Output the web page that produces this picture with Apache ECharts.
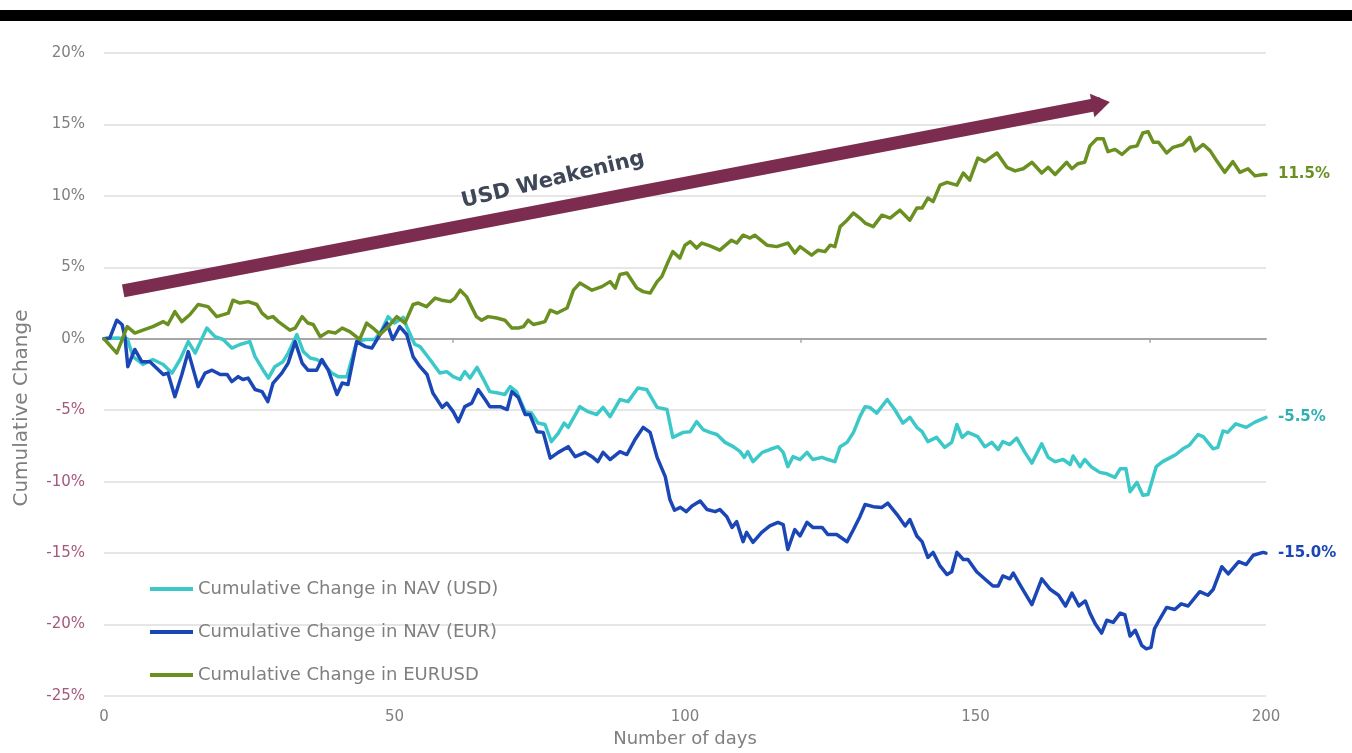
<!DOCTYPE html>
<html>
<head>
<meta charset="utf-8">
<script src="https://cdn.jsdelivr.net/npm/echarts@6/dist/echarts.min.js"></script>
<style>
html,body{margin:0;padding:0;background:#ffffff;}
#chart{width:1352px;height:753px;}
</style>
</head>
<body>
<div id="chart"></div>
<script>
// ---------------- data ----------------
const seriesNames = ['Cumulative Change in NAV (USD)', 'Cumulative Change in NAV (EUR)', 'Cumulative Change in EURUSD'];
const xTickLabels = [0, 50, 100, 150, 200];
const yTickLabels = [-25, -20, -15, -10, -5, 0, 5, 10, 15, 20];
const zeroLineTicks = [60, 120, 180];

// [day, cumulative change %]
const navUsd = [
[0,0],[2.2,0.05],[4,0],[5,-1.25],[6.7,-1.8],[8.4,-1.45],[10.2,-1.8],[11.7,-2.4],[13.1,-1.45],[14.5,-0.2],
[15.7,-1.0],[17.7,0.75],[19.1,0.15],[20.5,-0.05],[22,-0.65],[23.4,-0.4],[25.1,-0.2],[26,-1.25],[27.4,-2.2],[28.3,-2.75],
[29.4,-1.95],[30.8,-1.6],[31.7,-1.0],[33.2,0.3],[34.3,-0.9],[35.5,-1.35],[36.6,-1.45],[37.7,-1.7],[39.2,-2.4],[40.3,-2.65],
[41.8,-2.65],[43.5,-0.2],[45,-0.05],[46.6,-0.05],[47.8,0.6],[48.9,1.55],[50,1.1],[51.5,1.5],[52.1,0.85],[53.5,-0.4],
[54.4,-0.55],[56.1,-1.45],[57.8,-2.4],[59,-2.3],[60.1,-2.65],[61.3,-2.85],[62.1,-2.3],[63,-2.75],[64.2,-2.0],[65.2,-2.75],
[66.4,-3.7],[67.8,-3.8],[69,-3.9],[69.9,-3.35],[71,-3.7],[72.5,-5.1],[73.6,-5.2],[74.7,-5.9],[75.9,-6.0],[77,-7.2],
[78.2,-6.6],[79.2,-5.9],[79.9,-6.2],[81.9,-4.75],[83.3,-5.1],[84.8,-5.3],[85.9,-4.8],[87.1,-5.45],[88.8,-4.25],[90.2,-4.4],
[91.9,-3.45],[93.4,-3.55],[95.2,-4.8],[96.9,-4.95],[97.9,-6.9],[99.7,-6.55],[100.9,-6.5],[102,-5.8],[103.1,-6.35],[104.3,-6.55],
[105.5,-6.7],[106.9,-7.25],[108.3,-7.55],[109.5,-7.9],[110.2,-8.3],[110.8,-7.9],[111.7,-8.6],[113.3,-7.95],[114.6,-7.75],[116,-7.55],
[116.9,-7.95],[117.7,-8.95],[118.6,-8.25],[119.8,-8.45],[121,-7.95],[122,-8.45],[123.6,-8.3],[124.6,-8.45],[125.8,-8.6],[126.7,-7.55],
[127.9,-7.25],[129,-6.55],[130.1,-5.45],[131,-4.75],[131.8,-4.8],[133,-5.2],[134.8,-4.25],[136.1,-4.95],[137.5,-5.9],[138.7,-5.5],
[139.9,-6.2],[140.8,-6.5],[141.8,-7.2],[143.3,-6.9],[144.7,-7.6],[145.9,-7.25],[146.8,-6.0],[147.7,-6.9],[148.7,-6.55],[150.4,-6.85],
[151.6,-7.55],[152.8,-7.25],[153.9,-7.75],[154.7,-7.2],[155.9,-7.4],[157.1,-6.95],[158.5,-7.95],[159.7,-8.7],[161.4,-7.35],[162.5,-8.3],
[163.7,-8.6],[165.1,-8.45],[166.3,-8.8],[166.8,-8.2],[168,-8.95],[168.8,-8.45],[169.9,-8.95],[171.4,-9.35],[172.6,-9.45],[174,-9.7],
[174.9,-9.1],[175.9,-9.1],[176.6,-10.7],[177.8,-10.05],[178.8,-10.95],[179.7,-10.9],[181.1,-8.95],[182.2,-8.6],[183.6,-8.3],[184.5,-8.1],
[185.7,-7.7],[186.8,-7.45],[188.3,-6.7],[189.2,-6.85],[190.9,-7.7],[191.7,-7.6],[192.6,-6.45],[193.4,-6.55],[194.8,-5.95],[196.6,-6.2],
[198,-5.85],[200,-5.5]
];

const navEur = [
[0,0],[1,0.05],[2.2,1.3],[3.1,1.0],[3.6,0.15],[4.1,-1.95],[5.3,-0.75],[6.5,-1.6],[7.9,-1.6],[8.8,-1.95],
[10.2,-2.5],[11,-2.4],[12.2,-4.05],[13.4,-2.5],[14.5,-0.9],[16.2,-3.35],[17.4,-2.4],[18.6,-2.2],[20,-2.5],[21.2,-2.5],
[22,-3.0],[23.1,-2.65],[23.9,-2.85],[24.8,-2.75],[26,-3.55],[27.2,-3.7],[28.2,-4.4],[29.1,-3.1],[30.6,-2.4],[31.7,-1.7],
[32.9,-0.2],[34.1,-1.7],[35.1,-2.2],[36.6,-2.2],[37.5,-1.45],[38.6,-2.2],[40.1,-3.9],[41,-3.1],[42,-3.2],[43.5,-0.2],
[45,-0.55],[46.1,-0.65],[47.5,0.3],[48.7,1.1],[49.7,-0.05],[50.9,0.85],[52.1,0.3],[53.2,-1.25],[54.4,-1.95],[55.6,-2.5],
[56.6,-3.8],[58.2,-4.8],[59,-4.5],[60.1,-5.1],[61,-5.8],[62.1,-4.75],[63.3,-4.5],[64.4,-3.55],[65.6,-4.25],[66.4,-4.75],
[68.2,-4.75],[69.4,-4.95],[70.2,-3.7],[71.3,-4.1],[72.5,-5.3],[73.3,-5.3],[74.5,-6.5],[75.6,-6.55],[76.8,-8.35],[78.2,-7.95],
[79.9,-7.55],[81.1,-8.25],[82.8,-7.95],[84,-8.25],[85,-8.6],[85.9,-7.95],[87.1,-8.45],[88.8,-7.9],[90,-8.1],[91.4,-7.05],
[92.8,-6.2],[94,-6.55],[95.2,-8.3],[96.6,-9.65],[97.4,-11.25],[98.2,-12.0],[99.2,-11.8],[100.2,-12.1],[101.2,-11.7],[102.6,-11.35],
[103.8,-11.95],[105.2,-12.1],[106,-11.95],[107.2,-12.45],[108.1,-13.2],[108.9,-12.8],[110,-14.2],[110.6,-13.55],[111.7,-14.25],[113.2,-13.55],
[114.6,-13.1],[116,-12.85],[116.9,-13.0],[117.7,-14.75],[118.9,-13.35],[119.8,-13.8],[121,-12.85],[122,-13.2],[123.6,-13.2],[124.6,-13.7],
[126.1,-13.7],[127.9,-14.2],[129,-13.35],[130.1,-12.45],[131,-11.6],[132.4,-11.75],[133.9,-11.8],[134.9,-11.5],[136.5,-12.3],[137.9,-13.1],
[138.7,-12.65],[139.9,-13.8],[140.8,-14.2],[141.8,-15.3],[142.7,-14.95],[143.9,-15.9],[145.1,-16.5],[145.9,-16.3],[146.8,-14.95],[147.9,-15.45],
[148.7,-15.45],[150.2,-16.3],[152,-16.95],[153,-17.3],[153.9,-17.3],[154.7,-16.6],[155.9,-16.8],[156.5,-16.4],[158,-17.45],[159.7,-18.6],
[161.4,-16.8],[162.9,-17.55],[164.3,-17.95],[165.5,-18.7],[166.6,-17.8],[167.8,-18.7],[168.9,-18.35],[169.7,-19.2],[170.6,-19.95],[171.7,-20.6],
[172.6,-19.7],[173.7,-19.85],[174.9,-19.2],[175.7,-19.3],[176.6,-20.8],[177.5,-20.4],[178.6,-21.45],[179.4,-21.7],[180.2,-21.6],[180.8,-20.3],
[181.6,-19.7],[182.9,-18.8],[184.3,-18.95],[185.4,-18.55],[186.6,-18.7],[188.6,-17.7],[190,-17.95],[190.9,-17.55],[192.4,-15.95],[193.5,-16.45],
[195.3,-15.6],[196.6,-15.8],[197.8,-15.15],[199.5,-14.95],[200,-15.0]
];

const eurUsd = [
[0,0],[2.2,-1.0],[4,0.85],[5.3,0.4],[6.7,0.6],[8.4,0.85],[10.2,1.2],[11,1.0],[12.2,1.9],[13.4,1.2],
[14.8,1.7],[16.2,2.4],[17.9,2.25],[19.4,1.55],[21.4,1.8],[22.2,2.7],[23.4,2.5],[24.8,2.6],[26.3,2.4],[27.2,1.8],
[28.2,1.45],[29.1,1.55],[30,1.2],[32,0.6],[32.9,0.75],[34.1,1.55],[35.1,1.1],[36,1.0],[37.2,0.15],[38.6,0.5],
[39.8,0.4],[41,0.75],[42.3,0.5],[44,-0.05],[45.2,1.1],[46.3,0.75],[47.5,0.3],[48.7,0.75],[50.4,1.55],[51.8,1.1],
[53.2,2.4],[54.1,2.5],[55.5,2.25],[57,2.85],[58.1,2.7],[59.6,2.6],[60.4,2.85],[61.3,3.4],[62.4,2.95],[64.1,1.55],
[65,1.3],[66.1,1.55],[67.6,1.45],[69,1.3],[70.2,0.75],[71.3,0.75],[72.2,0.85],[73,1.3],[73.9,1.0],[75,1.1],
[75.9,1.2],[76.8,2.0],[78,1.8],[79.7,2.15],[80.8,3.4],[81.9,3.9],[84,3.4],[85.7,3.65],[87.1,4.0],[88,3.55],
[88.8,4.5],[90,4.6],[91.7,3.55],[92.8,3.3],[94,3.2],[95.2,4.0],[96,4.35],[97.1,5.4],[97.9,6.1],[99.1,5.65],
[100,6.55],[100.9,6.8],[102,6.35],[102.9,6.7],[104.3,6.5],[106,6.2],[108,6.9],[108.9,6.7],[110,7.25],[111.2,7.05],
[112,7.25],[114.1,6.55],[115.8,6.45],[117.7,6.7],[118.9,6.0],[119.8,6.45],[121.8,5.85],[122.9,6.2],[124.1,6.1],[125,6.55],
[125.8,6.45],[126.7,7.85],[127.9,8.3],[129,8.8],[130.1,8.45],[131,8.1],[132.4,7.85],[133.9,8.65],[135.3,8.45],[137,9.0],
[138.7,8.3],[139.9,9.15],[140.8,9.15],[141.8,9.85],[142.7,9.6],[143.9,10.75],[145.1,10.95],[146.8,10.75],[147.9,11.6],[149,11.1],
[150.4,12.65],[151.6,12.4],[153.7,13.0],[155.4,12.0],[156.8,11.75],[158.2,11.9],[159.7,12.35],[161.4,11.6],[162.5,12.0],[163.7,11.5],
[165.7,12.35],[166.6,11.9],[167.6,12.25],[168.8,12.35],[169.7,13.5],[170.9,14.0],[172,14.0],[172.8,13.1],[174,13.25],[175.2,12.9],
[176.6,13.4],[177.8,13.5],[178.8,14.4],[179.7,14.5],[180.6,13.75],[181.5,13.75],[182.9,13.0],[184,13.4],[185.7,13.6],[186.9,14.1],
[187.8,13.15],[189.2,13.6],[190.4,13.15],[191.6,12.4],[192.9,11.65],[194.3,12.4],[195.5,11.65],[196.9,11.9],[198.1,11.4],[199.5,11.5],
[200,11.5]
];

// ---------------- chart ----------------
const FONT = 'DejaVu Sans';
const GREY = '#7f7f7f';
const colors = ['#3cc8c9', '#1a47b5', '#6b9022'];
const labelColors = ['#2fb0b2', '#1a47b5', '#6b9022'];

const chart = echarts.init(document.getElementById('chart'), null, {renderer: 'canvas'});

function lineSeries(name, data, idx, extra) {
  return Object.assign({
    name: name,
    type: 'line',
    data: data,
    xAxisIndex: 0,
    yAxisIndex: 0,
    showSymbol: false,
    symbol: 'none',
    smooth: false,
    lineStyle: {color: colors[idx], width: 3.5, join: 'round', cap: 'round'},
    itemStyle: {color: colors[idx]},
    endLabel: {
      show: true,
      distance: 12,
      fontFamily: FONT,
      fontSize: 15,
      fontWeight: 'bold',
      color: labelColors[idx],
      formatter: p => p.value[1].toFixed(1) + '%'
    },
    emphasis: {disabled: true},
    z: 3 + idx
  }, extra || {});
}

const option = {
  animation: false,
  backgroundColor: '#ffffff',
  grid: {left: 104, right: 86, top: 53, bottom: 56, containLabel: false},
  legend: {
    orient: 'vertical',
    left: 150,
    top: 579,
    padding: 0,
    itemWidth: 43,
    itemHeight: 4,
    itemGap: 23,
    icon: 'rect',
    selectedMode: false,
    data: seriesNames,
    textStyle: {fontFamily: FONT, fontSize: 18, color: GREY, lineHeight: 20}
  },
  xAxis: [{
    type: 'value',
    min: xTickLabels[0],
    max: xTickLabels[xTickLabels.length - 1],
    interval: xTickLabels[1] - xTickLabels[0],
    name: 'Number of days',
    nameLocation: 'middle',
    nameGap: 34,
    nameTextStyle: {fontFamily: FONT, fontSize: 18, color: GREY},
    axisLine: {show: false, onZero: false},
    axisTick: {show: false},
    splitLine: {show: false},
    axisLabel: {fontFamily: FONT, fontSize: 15, color: GREY, margin: 14}
  }, {
    type: 'value',
    min: xTickLabels[0],
    max: xTickLabels[xTickLabels.length - 1],
    position: 'bottom',
    axisLine: {show: true, onZero: true, lineStyle: {color: '#a6a6a6', width: 2}},
    axisTick: {show: true, length: 4, customValues: zeroLineTicks, lineStyle: {color: '#a6a6a6', width: 1.5}},
    axisLabel: {show: false},
    splitLine: {show: false}
  }],
  yAxis: {
    type: 'value',
    min: yTickLabels[0],
    max: yTickLabels[yTickLabels.length - 1],
    interval: yTickLabels[1] - yTickLabels[0],
    axisLine: {show: false},
    axisTick: {show: false},
    axisLabel: {
      fontFamily: FONT,
      fontSize: 15,
      margin: 19,
      formatter: v => v + '%',
      color: v => (Number(v) < 0 ? '#a6577c' : GREY)
    },
    splitLine: {show: true, lineStyle: {color: '#dedede', width: 1.5}}
  },
  graphic: [
    {type: 'rect', left: 0, top: 10, shape: {width: 1352, height: 11}, style: {fill: '#000000'}, silent: true, z: 100},
    {type: 'text', x: 22, y: 408, rotation: Math.PI / 2,
      style: {text: 'Cumulative Change', fontFamily: FONT, fontSize: 20, fill: GREY, align: 'center', verticalAlign: 'middle'}, silent: true},
    {type: 'text', x: 553, y: 180, rotation: 13.5 * Math.PI / 180,
      style: {text: 'USD Weakening', fontFamily: FONT, fontSize: 21, fontWeight: 'bold', fill: '#3e4757', align: 'center', verticalAlign: 'middle'}, silent: true, z: 50}
  ],
  series: [
    lineSeries(seriesNames[0], navUsd, 0),
    lineSeries(seriesNames[1], navEur, 1),
    lineSeries(seriesNames[2], eurUsd, 2, {
      markLine: {
        silent: true,
        animation: false,
        symbol: ['none', 'triangle'],
        symbolSize: [24, 18],
        label: {show: false},
        lineStyle: {color: '#7b2c4f', width: 13, type: 'solid', cap: 'butt'},
        emphasis: {disabled: true},
        data: [[{coord: [3.3, 3.35]}, {coord: [171.6, 16.45]}]]
      }
    })
  ]
};

chart.setOption(option);
</script>
</body>
</html>
